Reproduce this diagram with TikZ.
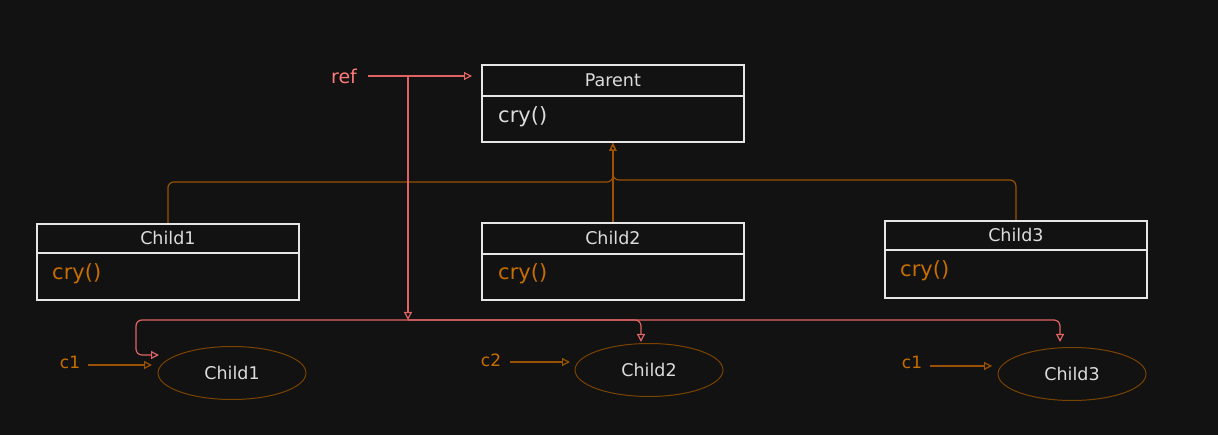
\documentclass[tikz,border=0pt]{standalone}
\usepackage{fontspec}
\setmainfont{DejaVu Sans}
\usetikzlibrary{arrows.meta,shapes.geometric}
\definecolor{bg}{HTML}{121212}
\definecolor{boxline}{HTML}{E6E6E6}
\definecolor{txt}{HTML}{DCDCDC}
\definecolor{meth}{HTML}{C86E00}
\definecolor{inh}{HTML}{9A5200}
\definecolor{objline}{HTML}{7A4300}
\definecolor{refc}{HTML}{E06464}
\definecolor{reftxt}{HTML}{FF7A7A}
\tikzset{
  umlhead/.style={draw=boxline, line width=1.8pt, fill=bg, minimum width=262pt,
    minimum height=#1, anchor=north west, inner sep=0pt, text=txt,
    font=\fontsize{17.5pt}{19pt}\selectfont},
  umlbody/.style={draw=boxline, line width=1.8pt, fill=bg, minimum width=262pt,
    minimum height=#1, anchor=north west, inner sep=0pt},
  methtxt/.style={anchor=west, inner sep=0pt, font=\fontsize{21pt}{23pt}\selectfont},
  inherit/.style={draw=inh, line width=1.2pt, rounded corners=6pt,
    -{Triangle[open,length=8pt,width=7pt]}},
  refarrow/.style={draw=refc, line width=1.2pt, rounded corners=6pt,
    -{Triangle[open,length=8pt,width=8pt]}},
  objarrow/.style={draw=inh, line width=1.2pt,
    -{Triangle[open,length=8pt,width=8pt]}},
  obj/.style={ellipse, draw=objline, line width=1pt, minimum width=148pt,
    minimum height=53pt, inner sep=0pt, text=txt,
    font=\fontsize{17.5pt}{19pt}\selectfont},
  varname/.style={inner sep=0pt, text=meth, font=\fontsize{17pt}{19pt}\selectfont}
}
\begin{document}
\begin{tikzpicture}[x=1pt,y=-1pt]
  \fill[bg] (0,0) rectangle (1218,435);
  \useasboundingbox (0,0) rectangle (1218,435);

  % class boxes
  \node[umlhead=31pt] (phead) at (481,64) {Parent};
  \node[umlbody=46pt] (pbody) at (481,95) {};
  \node[methtxt, text=txt] (pm) at (498,117) {cry()};

  \node[umlhead=29pt] (h1) at (36,223) {Child1};
  \node[umlbody=47pt] (b1) at (36,252) {};
  \node[methtxt, text=meth] (m1) at (52,274) {cry()};

  \node[umlhead=31pt] (h2) at (481,222) {Child2};
  \node[umlbody=46pt] (b2) at (481,253) {};
  \node[methtxt, text=meth] (m2) at (498,274) {cry()};

  \node[umlhead=29pt] (h3) at (884,220) {Child3};
  \node[umlbody=48pt] (b3) at (884,249) {};
  \node[methtxt, text=meth] (m3) at (900,271) {cry()};

  % inheritance
  \draw[inherit] (h1.north) -- (h1.north |- 0,182) -- (pbody.south |- 0,182) -- (pbody.south);
  \draw[inherit] (h3.north) -- (h3.north |- 0,180) -- (pbody.south |- 0,180) -- (pbody.south);
  \draw[inherit] (h2.north) -- (pbody.south);

  % objects
  \node[obj] (o1) at (232,373) {Child1};
  \node[obj] (o2) at (649,370) {Child2};
  \node[obj] (o3) at (1072,374) {Child3};

  \node[varname] (v1) at (70,362) {c1};
  \node[varname] (v2) at (491,360) {c2};
  \node[varname] (v3) at (912,362) {c1};
  \coordinate (t1) at (152,365);
  \coordinate (t2) at (570,362);
  \coordinate (t3) at (992,366);
  \draw[objarrow] (v1.east) ++(8,3) coordinate (s1) -- (t1);
  \draw[objarrow] (v2.east) ++(9,2) coordinate (s2) -- (t2);
  \draw[objarrow] (v3.east) ++(8,4) coordinate (s3) -- (t3);

  % reference
  \node[inner sep=0pt, text=reftxt, font=\fontsize{19pt}{21pt}\selectfont] (ref) at (344,76) {ref};
  \coordinate (rs) at (368,76);
  \coordinate (rj) at (408,76);
  \coordinate (bus) at (408,320);
  \draw[refarrow] (rs) -- (phead.west |- rs) [shorten >=9pt];
  \draw[refarrow] (rj) -- (bus);
  \coordinate (r1) at (159,355);
  \coordinate (r2) at (641,342);
  \coordinate (r3) at (1060,342);
  \draw[refarrow] (bus) -- (136,320) -- (136,355) -- (r1);
  \draw[refarrow] (bus) -- (641,320) -- (r2);
  \draw[refarrow] (bus) -- (1060,320) -- (r3);
\end{tikzpicture}
\end{document}
